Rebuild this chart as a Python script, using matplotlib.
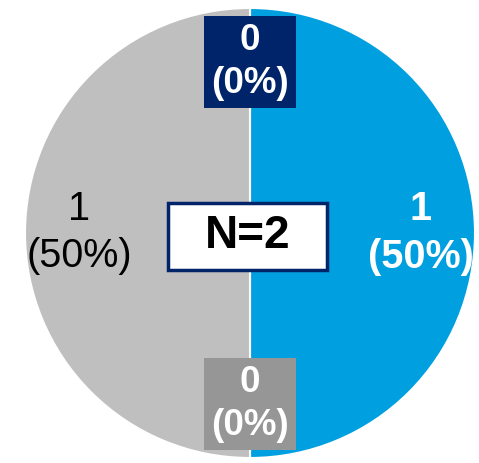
import numpy as np
import matplotlib.pyplot as plt
from matplotlib.patches import Rectangle

# slices clockwise from 12 o'clock
counts = [1, 0, 1, 0]
colors = ['#009FDF', '#969696', '#BFBFBF', '#002469']
text_colors = ['white', 'white', 'black', 'white']
text_weights = ['bold', 'bold', 'normal', 'bold']
n_total = sum(counts)

plt.rcParams['font.family'] = ['Liberation Sans', 'DejaVu Sans']

fig = plt.figure(figsize=(4.79, 4.63), dpi=100)
ax = fig.add_axes([0, 0, 1, 1])


def fmt(p):
    return f"{round(p * n_total / 100):.0f}\n({p:.0f}%)"


wedges, _, autotexts = ax.pie(
    counts, colors=colors, startangle=90, counterclock=False,
    center=(250, 230), radius=225, autopct=fmt, pctdistance=0.76,
    labels=[''] * len(counts),
    wedgeprops=dict(edgecolor='white', linewidth=1.5),
)

for t, c, w, cnt, bg in zip(autotexts, text_colors, text_weights, counts, colors):
    t.set_color(c)
    t.set_fontweight(w)
    t.set_linespacing(1.3)
    if cnt == 0:
        t.set_fontsize(26.5)
        t.set_bbox(dict(boxstyle='square,pad=0.2', facecolor=bg, edgecolor='none'))
    else:
        t.set_fontsize(28.5)

# N box in the middle
ax.add_patch(Rectangle((168, 463 - 270), 159, 67, facecolor='white',
                       edgecolor='#002469', linewidth=2.5, zorder=5))
ax.text(247.5, 463 - 236.5, f"N={n_total}", ha='center', va='center',
        fontsize=33, fontweight='bold', color='black', zorder=6)

ax.set_xlim(0, 479)
ax.set_ylim(0, 463)
ax.set_aspect('equal')
ax.axis('off')

fig.savefig('out.png', dpi=100)
